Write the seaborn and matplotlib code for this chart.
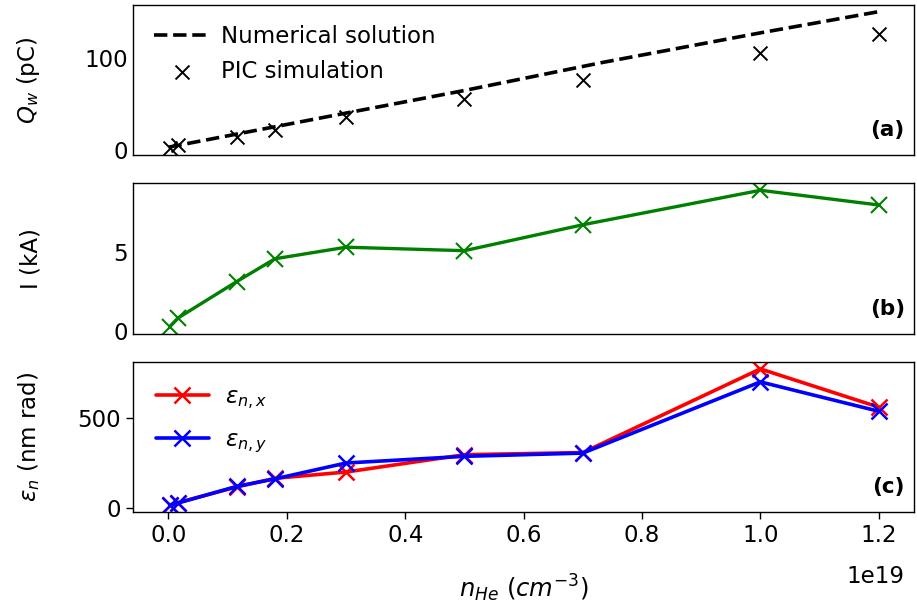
import numpy as np
import pandas as pd
import matplotlib
matplotlib.use("Agg")
import matplotlib.pyplot as plt
import seaborn as sns

# Helium density (in units of 1e19 cm^-3 before scaling)
n_he = [0.002, 0.016, 0.115, 0.18, 0.30, 0.50, 0.70, 1.00, 1.20]

# (a) witness charge
q_pic = [2, 5, 14.5, 22, 35.5, 55, 76, 105, 126]
n_num = [0.0, 0.30, 0.50, 0.73, 1.00, 1.20]
q_num = [3, 40, 64.5, 94.5, 127, 150]

# (b) peak current
current_ka = [0.25, 0.8, 3.1, 4.55, 5.28, 5.06, 6.7, 8.88, 7.95]

# (c) normalized emittance
emit_x = [17, 30, 117, 165, 200, 296, 308, 772, 560]
emit_y = [15, 28, 120, 162, 250, 287, 305, 700, 537]

scale = 1e19
df = pd.DataFrame({
    "n": np.array(n_he) * scale,
    "q": q_pic,
    "I": current_ka,
    "ex": emit_x,
    "ey": emit_y,
})
df_num = pd.DataFrame({"n": np.array(n_num) * scale, "q": q_num})

FS = 16.5
sns.set_style("white")
plt.rcParams.update({
    "font.family": ["DejaVu Sans"],
    "text.color": "black",
    "axes.labelcolor": "black",
    "xtick.color": "black",
    "ytick.color": "black",
    "axes.edgecolor": "black",
    "axes.linewidth": 1.0,
    "xtick.labelsize": FS,
    "ytick.labelsize": FS,
    "axes.labelsize": FS,
    "mathtext.fontset": "dejavusans",
})

fig, axes = plt.subplots(3, 1, figsize=(9.17, 6.04), dpi=100, sharex=True)
fig.subplots_adjust(left=0.145, right=0.997, top=0.992, bottom=0.152, hspace=0.19)
ax_a, ax_b, ax_c = axes

# (a)
sns.lineplot(data=df_num, x="n", y="q", ax=ax_a, color="black", linestyle="--",
             linewidth=2.6, label="Numerical solution", sort=True)
sns.scatterplot(data=df, x="n", y="q", ax=ax_a, color="black", marker="x",
                s=100, linewidth=1.4, label="PIC simulation")
ax_a.set_ylabel("$Q_w$ (pC)")
ax_a.legend(loc="upper left", frameon=False, fontsize=FS, handlelength=2.5,
            handletextpad=0.45, borderaxespad=0.5)

# (b)
sns.lineplot(data=df, x="n", y="I", ax=ax_b, color="green", linewidth=2.4,
             marker="x", markersize=11, markeredgewidth=1.5, markeredgecolor="green")
ax_b.set_ylabel("I (kA)")

# (c)
sns.lineplot(data=df, x="n", y="ex", ax=ax_c, color="red", linewidth=2.6,
             marker="x", markersize=12, markeredgewidth=1.8, markeredgecolor="red",
             label=r"$\epsilon_{n,x}$")
sns.lineplot(data=df, x="n", y="ey", ax=ax_c, color="blue", linewidth=2.6,
             marker="x", markersize=12, markeredgewidth=1.8, markeredgecolor="blue",
             label=r"$\epsilon_{n,y}$")
ax_c.set_ylabel(r"$\epsilon_n$ (nm rad)")
ax_c.legend(loc="upper left", frameon=False, fontsize=FS, handlelength=2.3,
            handletextpad=0.7, borderaxespad=0.6, labelspacing=0.75)
ax_c.set_xlabel(r"$n_{He}\ (cm^{-3})$", fontsize=17.5)

for ax in (ax_a, ax_b):
    ax.set_xlabel("")
    ax.tick_params(axis="both", length=0)
ax_c.tick_params(axis="both", length=5, width=1, direction="out", bottom=True, left=True)

ax_a.set_yticks([0, 100])
ax_b.set_yticks([0, 5])
ax_c.set_yticks([0, 500])
ax_c.set_xticks(np.array([0.0, 0.2, 0.4, 0.6, 0.8, 1.0, 1.2]) * scale)
ax_c.set_xlim(-0.06 * scale, 1.26 * scale)

# Scale factor of the density axis, placed under the last tick
ax_c.xaxis.get_offset_text().set_visible(False)
ax_c.text(0.987, -0.43, "1e19", transform=ax_c.transAxes, ha="right", va="center",
          fontsize=FS)
ax_c.xaxis.set_label_coords(0.5, -0.40)

for ax, tag in zip(axes, ["(a)", "(b)", "(c)"]):
    ax.text(0.988, 0.1, tag, transform=ax.transAxes, ha="right", va="bottom",
            fontsize=FS - 1, fontweight="bold")
    ax.yaxis.set_label_coords(-0.116, 0.5)

fig.savefig("out.png", dpi=100)
